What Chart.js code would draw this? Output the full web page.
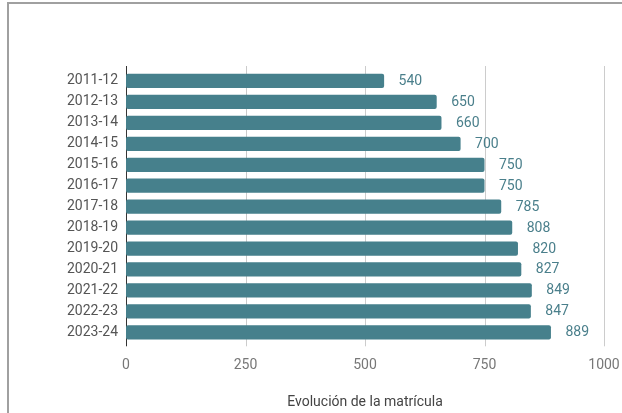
<!DOCTYPE html>
<html>
<head>
<meta charset="utf-8">
<script src="https://cdn.jsdelivr.net/npm/chart.js@4.4.0/dist/chart.umd.min.js"></script>
<style>
  body { margin: 0; background: #fff; overflow: hidden; }
  #wrap { position: relative; width: 622px; height: 413px; }
  #frame { position: absolute; left: 7px; top: 2px; width: 700px; height: 500px;
           border-left: 2px solid #a0a0a0; border-top: 2px solid #a0a0a0; }
  canvas { position: absolute; left: 0; top: 0; }
</style>
</head>
<body>
<div id="wrap">
  <div id="frame"></div>
  <canvas id="myChart" width="622" height="413"></canvas>
</div>
<script>
const ctx = document.getElementById('myChart');

// cursos academicos y matricula
const cursos = ['2011-12', '2012-13', '2013-14', '2014-15', '2015-16', '2016-17', '2017-18',
                '2018-19', '2019-20', '2020-21', '2021-22', '2022-23', '2023-24'];
const matricula = [540, 650, 660, 700, 750, 750, 785, 808, 820, 827, 849, 847, 889];
const xTicks = [0, 250, 500, 750, 1000];

const barColor = '#46808c';

// vertical grid lines + baseline, a bit longer than the plot area
const gridPlugin = {
    id: 'gridLines',
    beforeDatasetsDraw(chart) {
        const c = chart.ctx;
        const area = chart.chartArea;
        const x = chart.scales.x;
        c.save();
        xTicks.forEach(function (t) {
            const px = Math.round(x.getPixelForValue(t)) + 0.5;
            c.beginPath();
            c.strokeStyle = t === 0 ? '#333333' : '#cccccc';
            c.lineWidth = 1;
            c.moveTo(px, area.top - 4.5);
            c.lineTo(px, area.bottom + 3.5);
            c.stroke();
        });
        c.restore();
    }
};

// value labels right of each bar
const labelPlugin = {
    id: 'barLabels',
    afterDatasetsDraw(chart) {
        const c = chart.ctx;
        const meta = chart.getDatasetMeta(0);
        c.save();
        c.font = '14px Roboto';
        c.fillStyle = '#4a7f8b';
        c.textAlign = 'left';
        c.textBaseline = 'middle';
        meta.data.forEach(function (bar, i) {
            c.fillText(String(matricula[i]), bar.x + 14.5, bar.y + 0.5);
        });
        c.restore();
    }
};

let myChart = new Chart(ctx, {
    type: 'bar',
    data: {
        labels: cursos,
        datasets: [{
            label: 'Evolución de la matrícula',
            data: matricula,
            backgroundColor: barColor,
            borderRadius: 2,
            borderSkipped: false,
            barPercentage: 0.68,
            categoryPercentage: 1
        }]
    },
    options: {
        indexAxis: 'y',
        responsive: false,
        animation: false,
        layout: {
            padding: { top: 70.5, right: 18, bottom: 0, left: 0 }
        },
        scales: {
            x: {
                min: 0,
                max: 1000,
                afterBuildTicks: function (scale) {
                    scale.ticks = xTicks.map(function (v) { return { value: v }; });
                },
                afterFit: function (scale) {
                    scale.height = 70.2;
                    scale.paddingLeft = 0;
                    scale.paddingRight = 0;
                },
                grid: { display: false, drawTicks: false },
                border: { display: false },
                ticks: {
                    padding: 14,
                    color: '#777777',
                    font: { size: 14, family: 'Roboto' },
                    callback: function (v) { return String(v); }
                },
                title: {
                    display: true,
                    text: 'Evolución de la matrícula',
                    color: '#444444',
                    font: { size: 14, family: 'Roboto' },
                    padding: { top: 0, bottom: 2 }
                }
            },
            y: {
                afterFit: function (scale) { scale.width = 126; },
                grid: { display: false, drawTicks: false },
                border: { display: false },
                ticks: {
                    padding: 8,
                    color: '#555555',
                    font: { size: 14, family: 'Roboto' }
                }
            }
        },
        plugins: {
            legend: { display: false },
            tooltip: { enabled: false }
        }
    },
    plugins: [gridPlugin, labelPlugin]
});
</script>
</body>
</html>
